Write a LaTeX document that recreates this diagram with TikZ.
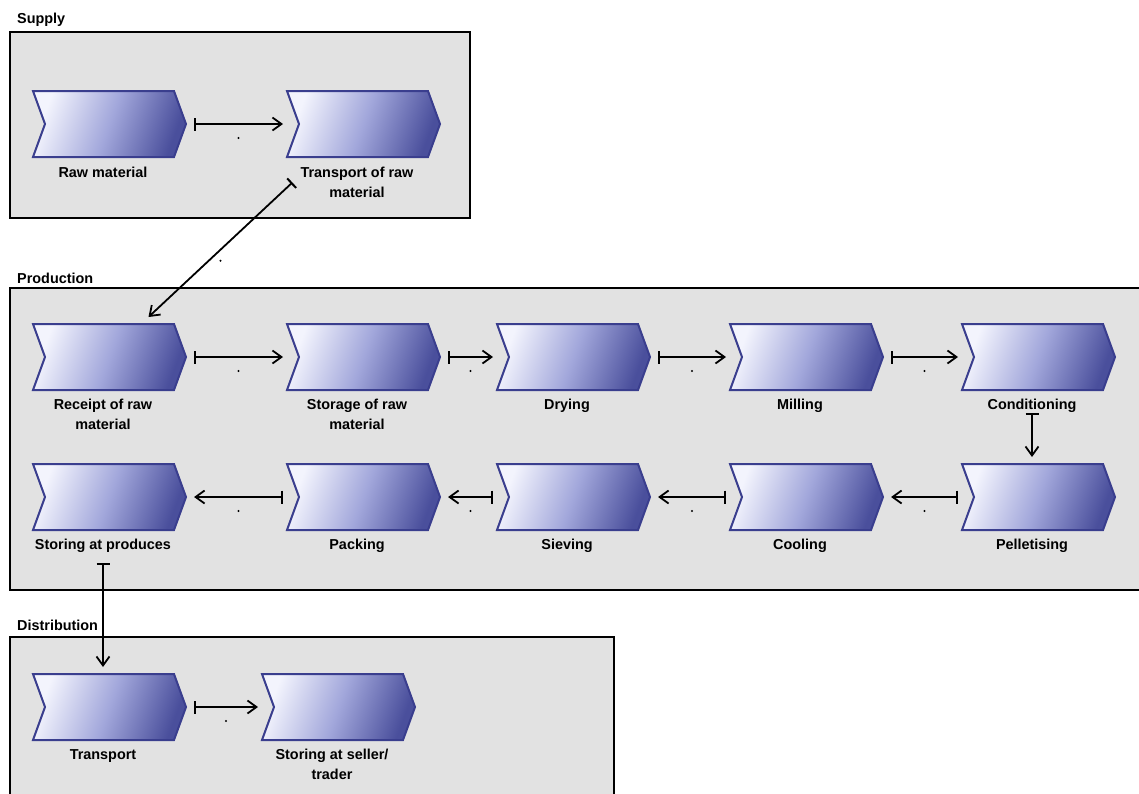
\documentclass[tikz,border=0pt]{standalone}
\usepackage{fontspec}
\setmainfont{Liberation Sans}
\usetikzlibrary{shapes.symbols,arrows.meta}
\definecolor{boxgray}{HTML}{E2E2E2}
\definecolor{chevlight}{HTML}{F3F4FD}
\definecolor{chevmid}{HTML}{A2A7DB}
\definecolor{chevdark}{HTML}{4A4F9C}
\definecolor{chevedge}{HTML}{3A3E8E}
\tikzset{
  proc/.style={signal, signal from=west, signal to=east, signal pointer angle=140,
    minimum width=153pt, minimum height=66pt, inner sep=0pt,
    draw=chevedge, line width=2pt,
    left color=chevlight, right color=chevdark, middle color=chevmid, shading angle=70},
  lab/.style={font=\bfseries\fontsize{14.4}{20}\selectfont, align=center, anchor=north, inner sep=0pt},
  pool/.style={draw=black, line width=1.6pt, fill=boxgray},
  poollab/.style={font=\bfseries\fontsize{14.4}{18}\selectfont, anchor=west, inner sep=0pt},
  conn/.style={line width=1.8pt, {Bar[width=13pt,line width=2pt]}-{Straight Barb[length=9pt,width=13pt,line width=1.8pt]}},
  cdot/.style={circle, fill=black, inner sep=0pt, minimum size=2.2pt},
}
\begin{document}
\begin{tikzpicture}[x=1pt,y=-1pt]
\useasboundingbox (0,0) rectangle (1139,793);
\clip (0,0) rectangle (1139,793);
% pools
\node[poollab] (lsup) at (17,20) {Supply};
\draw[pool] (10,32) rectangle (470,218);
\node[poollab] (lprod) at (17,278) {Production};
\draw[pool] (10,288) rectangle (1150,590);
\node[poollab] (ldist) at (17,625) {Distribution};
\draw[pool] (10,637) rectangle (614,810);
% supply
\node[proc] (raw) at (109.5,124) {};
\node[proc] (tr) at (363.5,124) {};
\node[lab] (rawlab) at (103,167) {Raw material};
\node[lab] (trlab) at (357,167) {Transport of raw\\material};
% production row 1
\node[proc] (rec) at (109.5,357) {};
\node[proc] (sto) at (363.5,357) {};
\node[proc] (dry) at (573.5,357) {};
\node[proc] (mil) at (806.5,357) {};
\node[proc] (con) at (1038.5,357) {};
\node[lab] (reclab) at (103,399) {Receipt of raw\\material};
\node[lab] (stolab) at (357,399) {Storage of raw\\material};
\node[lab] (drylab) at (567,399) {Drying};
\node[lab] (millab) at (800,399) {Milling};
\node[lab] (conlab) at (1032,399) {Conditioning};
% production row 2
\node[proc] (sap) at (109.5,497) {};
\node[proc] (pac) at (363.5,497) {};
\node[proc] (sie) at (573.5,497) {};
\node[proc] (coo) at (806.5,497) {};
\node[proc] (pel) at (1038.5,497) {};
\node[lab] (saplab) at (103,539) {Storing at produces};
\node[lab] (paclab) at (357,539) {Packing};
\node[lab] (sielab) at (567,539) {Sieving};
\node[lab] (coolab) at (800,539) {Cooling};
\node[lab] (pellab) at (1032,539) {Pelletising};
% distribution
\node[proc] (dtr) at (109.5,707) {};
\node[proc] (dst) at (338.5,707) {};
\node[lab] (dtrlab) at (103,749) {Transport};
\node[lab] (dstlab) at (332,749) {Storing at seller/\\trader};
% connectors
\draw[conn] ([xshift=7pt]raw.east) -- ([xshift=-80.5pt]tr.center) node[pos=.5,yshift=-14pt,cdot]{};
\draw[conn] ([xshift=-8pt]trlab.west) -- ([xshift=39pt,yshift=6pt]rec.north) node[pos=.5,yshift=-11pt,cdot]{};
\draw[conn] ([xshift=7pt]rec.east) -- ([xshift=-80.5pt]sto.center) node[pos=.5,yshift=-14pt,cdot]{};
\draw[conn] ([xshift=7pt]sto.east) -- ([xshift=-80.5pt]dry.center) node[pos=.5,yshift=-14pt,cdot]{};
\draw[conn] ([xshift=7pt]dry.east) -- ([xshift=-80.5pt]mil.center) node[pos=.5,yshift=-14pt,cdot]{};
\draw[conn] ([xshift=7pt]mil.east) -- ([xshift=-80.5pt]con.center) node[pos=.5,yshift=-14pt,cdot]{};
\draw[conn, shorten >=6pt] (conlab.south) -- (conlab.south |- pel.north);
\draw[conn] ([xshift=-80.5pt]pel.center) -- ([xshift=7pt]coo.east) node[pos=.5,yshift=-14pt,cdot]{};
\draw[conn] ([xshift=-80.5pt]coo.center) -- ([xshift=7pt]sie.east) node[pos=.5,yshift=-14pt,cdot]{};
\draw[conn] ([xshift=-80.5pt]sie.center) -- ([xshift=7pt]pac.east) node[pos=.5,yshift=-14pt,cdot]{};
\draw[conn] ([xshift=-80.5pt]pac.center) -- ([xshift=7pt]sap.east) node[pos=.5,yshift=-14pt,cdot]{};
\draw[conn, shorten >=6pt] ([yshift=-10pt]saplab.south) -- (saplab.south |- dtr.north);
\draw[conn] ([xshift=7pt]dtr.east) -- ([xshift=-80.5pt]dst.center) node[pos=.5,yshift=-14pt,cdot]{};
\end{tikzpicture}
\end{document}
